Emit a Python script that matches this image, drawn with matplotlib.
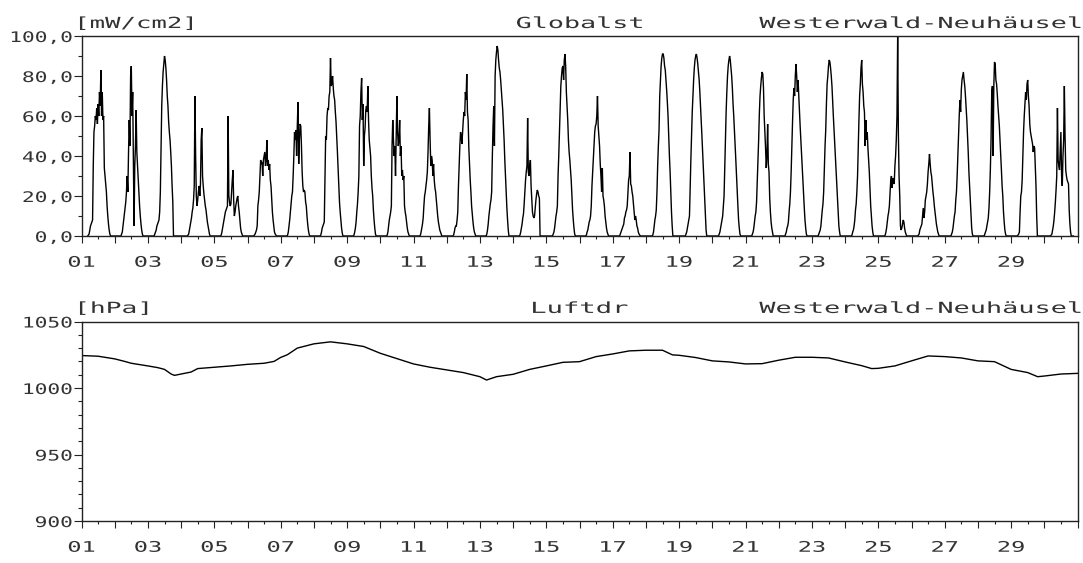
import numpy as np
import matplotlib
matplotlib.use("Agg")
import matplotlib.pyplot as plt
from matplotlib.patheffects import AbstractPathEffect
from matplotlib.transforms import Affine2D
from matplotlib.ticker import FixedLocator, FixedFormatter

plt.rcParams['font.family'] = ['DejaVu Sans Mono', 'DejaVu Sans']

# ---------------- data ----------------
# Global radiation [mW/cm2], half-hourly samples from 04:30 to 21:00 of each day
hours = np.arange(4.5, 21.01, 0.5)

day01 = [0, 0.5, 1, 3, 5, 6, 7, 8, 35, 52, 55, 60, 58, 64, 56, 66, 60, 72, 65, 83, 60, 72, 58, 60, 34, 30, 26, 22, 15, 10, 6, 3, 1, 0]
day02 = [0, 1, 2, 5, 8, 11, 14, 17, 22, 30, 22, 42, 58, 45, 80, 85, 60, 72, 40, 5, 35, 45, 63, 42, 35, 27, 20, 15, 10, 6, 3, 1, 0, 0]
day03 = [0, 1, 2, 3, 5, 6, 7, 8, 12, 22, 45, 65, 75, 82, 86, 90, 88, 84, 78, 70, 65, 57, 52, 48, 42, 35, 25, 17, 0, 0, 0, 0, 0, 0]
day04 = [0, 0.5, 1, 3, 5, 7, 9, 12, 14, 18, 25, 70, 40, 20, 15, 18, 22, 25, 20, 26, 48, 54, 30, 25, 21, 18, 15, 13, 10, 7, 5, 3, 1, 0]
day05 = [0, 0.5, 2, 4, 6, 8, 10, 12, 13, 14, 15, 60, 20, 17, 15, 16, 22, 28, 33, 18, 10, 12, 15, 17, 19, 20, 15, 12, 8, 4, 2, 1, 0, 0]
day06 = [0, 0.5, 1, 2, 3, 5, 15, 18, 22, 30, 38, 36, 37, 30, 38, 40, 42, 35, 38, 48, 35, 38, 33, 36, 28, 25, 18, 12, 8, 5, 2, 1, 0.5, 0]
day07 = [0, 0.5, 2, 5, 8, 12, 16, 20, 22, 30, 40, 52, 48, 53, 40, 55, 67, 36, 48, 56, 55, 45, 32, 25, 22, 23, 22, 17, 15, 10, 6, 3, 1, 0]
day08 = [0, 0.5, 2, 4, 5, 6, 7, 30, 50, 48, 60, 64, 63, 70, 72, 89, 75, 76, 80, 74, 70, 68, 62, 57, 50, 42, 34, 25, 17, 12, 8, 4, 1.5, 0]
day09 = [0, 0.5, 2, 4, 7, 12, 16, 22, 30, 55, 60, 72, 79, 58, 66, 35, 50, 54, 63, 65, 62, 75, 58, 48, 44, 40, 30, 24, 20, 13, 8, 4, 1, 0]
day10 = [0, 0.5, 2, 5, 8, 10, 12, 15, 45, 58, 48, 40, 45, 30, 50, 70, 52, 45, 48, 58, 40, 45, 30, 33, 28, 30, 15, 12, 10, 7, 4, 2, 1, 0]
day11 = [0, 0.5, 2, 4, 6, 9, 15, 20, 22, 25, 28, 32, 42, 55, 64, 48, 35, 40, 38, 30, 36, 28, 24, 22, 18, 14, 10, 7, 5, 3, 2, 1, 0, 0]
day12 = [0, 0.5, 2, 4, 5, 5, 8, 12, 25, 35, 45, 52, 50, 46, 52, 58, 62, 60, 72, 68, 81, 62, 58, 44, 36, 28, 22, 15, 11, 7, 4, 2, 1, 0]
day13 = [0, 1, 3, 6, 10, 13, 16, 18, 22, 40, 55, 65, 45, 80, 88, 92, 95, 93, 88, 84, 82, 78, 73, 68, 63, 56, 48, 38, 30, 21, 14, 8, 3, 0]
day14 = [0, 0.5, 2, 4, 6, 9, 11, 16, 22, 28, 32, 35, 59, 32, 30, 35, 38, 25, 18, 12, 10, 9, 10, 14, 18, 21, 23, 22, 20, 19, 0, 0, 0, 0]
day15 = [0, 1, 2, 4, 7, 10, 12, 15, 30, 40, 52, 65, 75, 80, 84, 85, 78, 88, 91, 85, 72, 65, 58, 48, 42, 38, 33, 28, 20, 13, 8, 4, 1, 0]
day16 = [0, 0.5, 2, 3, 5, 7, 8, 10, 15, 25, 32, 40, 45, 52, 55, 56, 60, 70, 55, 50, 45, 36, 30, 22, 34, 20, 18, 15, 10, 7, 4, 2, 1, 0]
day17 = [0, 0, 1, 2, 3, 4, 5, 6, 9, 10, 12, 13, 15, 22, 28, 30, 42, 26, 25, 22, 20, 16, 12, 8, 10, 8, 5, 4, 2, 1, 0.5, 0, 0, 0]
day18 = [0, 0.5, 2, 5, 8, 10, 13, 22, 35, 45, 53, 70, 78, 85, 89, 91, 91, 89, 85, 83, 78, 73, 67, 60, 50, 40, 32, 22, 12, 5, 0, 0, 0, 0]
day19 = [0, 1, 2, 4, 6, 8, 10, 25, 38, 50, 62, 70, 78, 84, 88, 90, 91, 89, 86, 82, 78, 72, 65, 58, 50, 42, 35, 26, 18, 9, 3, 0, 0, 0]
day20 = [0, 1, 2, 4, 6, 8, 10, 15, 20, 35, 48, 62, 72, 80, 85, 88, 90, 88, 84, 80, 74, 66, 60, 53, 45, 38, 30, 22, 15, 8, 4, 1, 0, 0]
day21 = [0, 1, 2, 4, 7, 10, 12, 17, 27, 36, 48, 61, 70, 75, 79, 82, 81, 74, 60, 52, 44, 34, 40, 56, 36, 32, 19, 12, 7, 4, 2, 0, 0, 0]
day22 = [0, 1, 2, 4, 5, 7, 12, 16, 22, 32, 45, 57, 68, 74, 70, 80, 86, 80, 72, 78, 70, 62, 55, 48, 42, 33, 27, 20, 14, 8, 4, 1, 0, 0]
day23 = [0, 1, 2, 3, 5, 9, 13, 16, 22, 33, 45, 53, 66, 76, 80, 85, 88, 87, 84, 80, 75, 67, 60, 53, 47, 40, 33, 24, 17, 10, 5, 2, 0, 0]
day24 = [0, 0.5, 2, 3, 5, 8, 13, 16, 22, 30, 45, 58, 70, 76, 84, 88, 76, 72, 65, 62, 45, 58, 48, 52, 44, 38, 32, 23, 15, 10, 5, 2, 0, 0]
day25 = [0, 0.5, 2, 4, 7, 10, 12, 15, 22, 28, 30, 24, 29, 27, 26, 35, 40, 48, 60, 100, 52, 30, 20, 5, 3, 4, 6, 8, 7, 4, 2, 1, 0, 0]
day26 = [0, 0.5, 1, 3, 4, 5, 6, 10, 14, 9, 12, 18, 20, 22, 26, 32, 36, 41, 36, 32, 30, 26, 22, 19, 15, 12, 9, 6, 4, 2, 1, 0, 0, 0]
day27 = [0, 1, 2, 4, 7, 10, 12, 18, 22, 30, 40, 50, 60, 68, 62, 73, 78, 80, 82, 78, 75, 70, 64, 58, 50, 42, 32, 25, 18, 10, 4, 1, 0, 0]
day28 = [0, 1, 2, 3, 5, 7, 9, 14, 22, 33, 48, 72, 75, 40, 75, 87, 86, 78, 76, 71, 65, 60, 55, 48, 40, 33, 25, 20, 12, 7, 3, 1, 0, 0]
day29 = [0, 0.5, 1, 2, 12, 20, 22, 28, 40, 52, 60, 66, 72, 68, 76, 78, 70, 65, 56, 52, 50, 48, 46, 42, 45, 44, 35, 25, 10, 0, 0, 0, 0, 0]
day30 = [0, 0.5, 1, 3, 5, 8, 12, 17, 23, 30, 64, 38, 35, 33, 42, 52, 30, 25, 40, 48, 75, 50, 33, 30, 28, 27, 26, 13, 6, 2, 0, 0, 0, 0]

radiation_days = [day01, day02, day03, day04, day05, day06, day07, day08, day09, day10,
                  day11, day12, day13, day14, day15, day16, day17, day18, day19, day20,
                  day21, day22, day23, day24, day25, day26, day27, day28, day29, day30]

# Air pressure [hPa]
p_day = [1.0, 1.5, 2.0, 2.3, 2.5, 3.0, 3.3, 3.5, 3.7, 3.8, 4.0, 4.3, 4.5, 5.0, 5.5, 6.0,
         6.5, 6.8, 7.0, 7.2, 7.5, 8.0, 8.5, 9.0, 9.5, 10.0, 10.5, 11.0, 11.5, 12.0, 12.5,
         13.0, 13.2, 13.5, 14.0, 14.5, 15.0, 15.5, 16.0, 16.5, 17.0, 17.5, 18.0, 18.5,
         18.8, 19.0, 19.5, 20.0, 20.5, 21.0, 21.5, 22.0, 22.5, 23.0, 23.5, 24.0, 24.5,
         24.8, 25.0, 25.5, 26.0, 26.5, 27.0, 27.5, 28.0, 28.5, 29.0, 29.5, 29.8, 30.0,
         30.5, 31.0]
p_hpa = [1024.4, 1023.9, 1021.9, 1020.0, 1018.6, 1016.6, 1015.3, 1014.0, 1010.5, 1009.5,
         1010.5, 1012.0, 1014.6, 1015.6, 1016.6, 1017.8, 1018.6, 1020.0, 1023.0, 1025.0,
         1030.0, 1033.2, 1034.7, 1033.2, 1031.2, 1026.1, 1022.1, 1018.1, 1015.6, 1013.6,
         1011.6, 1008.5, 1006.0, 1008.5, 1010.3, 1014.0, 1016.6, 1019.3, 1019.8, 1023.6,
         1025.6, 1027.9, 1028.4, 1028.4, 1024.9, 1024.6, 1022.9, 1020.4, 1019.6, 1018.1,
         1018.3, 1020.9, 1023.1, 1023.1, 1022.6, 1019.6, 1016.8, 1014.6, 1014.8, 1016.6,
         1020.4, 1024.1, 1023.6, 1022.6, 1020.4, 1019.8, 1014.0, 1011.6, 1008.5, 1009.0,
         1010.5, 1011.0]

x_tick_days = list(range(1, 32))
x_tick_labels = [f"{d:02d}" if (d % 2 == 1 and d < 31) else "" for d in x_tick_days]
rad_ticks = [0, 20, 40, 60, 80, 100]
rad_tick_labels = ["0,0", "20,0", "40,0", "60,0", "80,0", "100,0"]
p_ticks = [900, 950, 1000, 1050]
p_tick_labels = ["900", "950", "1000", "1050"]

station = "Westerwald-Neuhäusel"

TEXT_COLOR = '#333333'


# ---------------- helpers ----------------
class HStretch(AbstractPathEffect):
    """Stretch glyphs horizontally (plotter-like wide lettering)."""
    def __init__(self, sx, anchor='center'):
        super().__init__()
        self.sx = sx
        self.anchor = anchor

    def draw_path(self, renderer, gc, tpath, affine, rgbFace=None):
        ext = tpath.get_extents(affine)
        if self.anchor == 'left':
            x0 = ext.x0
        elif self.anchor == 'right':
            x0 = ext.x1
        else:
            x0 = 0.5 * (ext.x0 + ext.x1)
        st = Affine2D().translate(-x0, 0).scale(self.sx, 1.0).translate(x0, 0)
        renderer.draw_path(gc, tpath, affine + st, rgbFace)


W, H = 1083, 563
fig = plt.figure(figsize=(W / 100, H / 100), dpi=100)


def px_axes(left, top, right, bottom):
    return fig.add_axes([left / W, 1 - bottom / H, (right - left) / W, (bottom - top) / H])


ax1 = px_axes(81.5, 36, 1077.5, 236)
ax2 = px_axes(81.5, 321.5, 1077.5, 521)

# ---------------- top: global radiation ----------------
t_rad = np.concatenate([d + hours / 24.0 for d, _ in enumerate(radiation_days, start=1)])
v_rad = np.concatenate([np.asarray(v, float) for v in radiation_days])
ax1.plot(t_rad, v_rad, color='black', lw=1.0, solid_joinstyle='miter')
ax1.set_ylim(0, 100)
ax1.yaxis.set_major_locator(FixedLocator(rad_ticks))
ax1.yaxis.set_major_formatter(FixedFormatter(rad_tick_labels))
ax1.yaxis.set_minor_locator(FixedLocator([10, 30, 50, 70, 90]))

# ---------------- bottom: pressure ----------------
ax2.plot(p_day, p_hpa, color='black', lw=1.0)
ax2.set_ylim(900, 1050)
ax2.yaxis.set_major_locator(FixedLocator(p_ticks))
ax2.yaxis.set_major_formatter(FixedFormatter(p_tick_labels))
ax2.yaxis.set_minor_locator(FixedLocator([v for v in range(910, 1050, 10) if v % 50]))

for ax in (ax1, ax2):
    ax.set_xlim(1, 31)
    ax.xaxis.set_major_locator(FixedLocator(x_tick_days))
    ax.xaxis.set_major_formatter(FixedFormatter(x_tick_labels))
    ax.xaxis.set_minor_locator(FixedLocator(np.arange(1.5, 31, 1.0)))
    for s in ax.spines.values():
        s.set_linewidth(1.0)
        s.set_color('#222222')
    ax.tick_params(axis='x', which='major', direction='out', length=5, width=0.8,
                   pad=8.5, labelsize=10.5, color='#222222', labelcolor=TEXT_COLOR)
    ax.tick_params(axis='x', which='minor', direction='out', length=2.2, width=0.8,
                   color='#222222')
    ax.tick_params(axis='y', which='major', direction='out', length=5.8, width=0.8,
                   pad=0.8, labelsize=10.5, color='#222222', labelcolor=TEXT_COLOR)
    ax.tick_params(axis='y', which='minor', direction='out', length=3.0, width=0.8,
                   color='#222222')

title_kw = dict(fontsize=11, color=TEXT_COLOR, va='baseline')
ax1.text(-0.005, 1.04, "[mW/cm2]", transform=ax1.transAxes, ha='left',
         path_effects=[HStretch(1.68, 'left')], **title_kw)
ax1.text(0.5, 1.04, "Globalst", transform=ax1.transAxes, ha='center',
         path_effects=[HStretch(1.75, 'center')], **title_kw)
ax1.text(1.003, 1.04, station, transform=ax1.transAxes, ha='right',
         path_effects=[HStretch(1.76, 'right')], **title_kw)

ax2.text(-0.005, 1.043, "[hPa]", transform=ax2.transAxes, ha='left',
         path_effects=[HStretch(1.72, 'left')], **title_kw)
ax2.text(0.5, 1.043, "Luftdr", transform=ax2.transAxes, ha='center',
         path_effects=[HStretch(1.78, 'center')], **title_kw)
ax2.text(1.003, 1.043, station, transform=ax2.transAxes, ha='right',
         path_effects=[HStretch(1.76, 'right')], **title_kw)

fig.canvas.draw()
for ax in (ax1, ax2):
    for lab in ax.get_xticklabels():
        lab.set_path_effects([HStretch(1.62, 'center')])
    for lab in ax.get_yticklabels():
        lab.set_path_effects([HStretch(1.45, 'right')])

fig.savefig("out.png", dpi=100, facecolor='white')
